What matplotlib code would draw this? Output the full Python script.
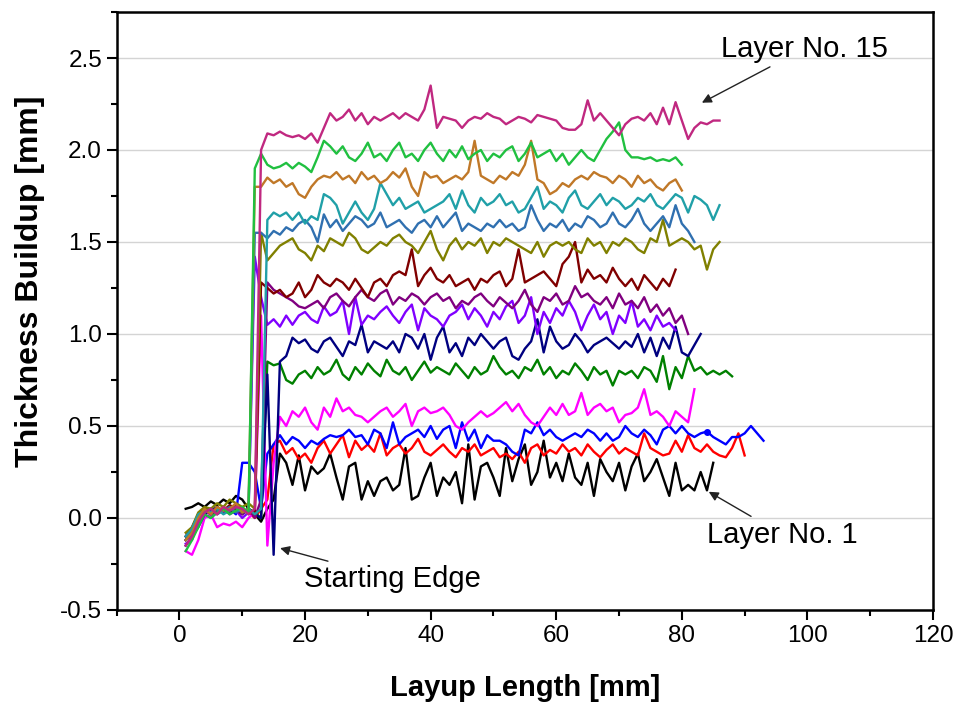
#!/usr/bin/env python3

import numpy as np
import matplotlib
matplotlib.use('Agg')
import matplotlib.pyplot as plt
from matplotlib.ticker import MultipleLocator

plt.rcParams['font.family'] = ['Liberation Sans', 'DejaVu Sans']

# thickness readings, one value per mm of layup length starting at x = 1 mm
layer1 = [0.05, 0.06, 0.08, 0.06, 0.09, 0.07, 0.10, 0.08, 0.12, 0.10,
          0.05, 0.02, -0.02, 0.05, 0.10, 0.35, 0.30, 0.18, 0.34, 0.15,
          0.28, 0.24, 0.27, 0.35, 0.22, 0.10, 0.28, 0.30, 0.10, 0.20,
          0.12, 0.20, 0.22, 0.15, 0.18, 0.38, 0.10, 0.12, 0.22, 0.30,
          0.12, 0.22, 0.18, 0.25, 0.08, 0.40, 0.10, 0.28, 0.30, 0.22,
          0.12, 0.38, 0.20, 0.32, 0.40, 0.18, 0.25, 0.42, 0.22, 0.30,
          0.20, 0.35, 0.22, 0.18, 0.30, 0.12, 0.32, 0.25, 0.20, 0.30,
          0.15, 0.28, 0.35, 0.20, 0.25, 0.32, 0.22, 0.12, 0.30, 0.15,
          0.18, 0.15, 0.25, 0.15, 0.30]
layer2 = [-0.12, -0.08, 0.00, 0.03, 0.05, 0.02, 0.06, 0.04, 0.07, 0.05,
          0.03, 0.00, 0.05, 0.10, 0.40, 0.42, 0.35, 0.38, 0.32, 0.35,
          0.30, 0.38, 0.42, 0.35, 0.40, 0.45, 0.33, 0.42, 0.37, 0.40,
          0.36, 0.46, 0.34, 0.38, 0.40, 0.35, 0.38, 0.43, 0.36, 0.34,
          0.37, 0.40, 0.36, 0.33, 0.38, 0.36, 0.40, 0.34, 0.36, 0.38,
          0.33, 0.35, 0.32, 0.36, 0.30, 0.38, 0.40, 0.34, 0.37, 0.35,
          0.40, 0.36, 0.38, 0.34, 0.40, 0.36, 0.33, 0.37, 0.40, 0.35,
          0.38, 0.36, 0.34, 0.46, 0.38, 0.36, 0.34, 0.35, 0.42, 0.36,
          0.45, 0.38, 0.36, 0.40, 0.36, 0.34, 0.33, 0.38, 0.46, 0.34]
layer3 = [-0.10, -0.05, 0.02, 0.05, 0.04, 0.06, 0.03, 0.05, 0.02, 0.30,
          0.30, 0.25, 0.05, 0.35, 0.40, 0.45, 0.40, 0.44, 0.42, 0.38,
          0.42, 0.40, 0.43, 0.45, 0.44, 0.45, 0.48, 0.44, 0.45, 0.40,
          0.48, 0.46, 0.38, 0.52, 0.40, 0.44, 0.46, 0.48, 0.44, 0.50,
          0.43, 0.48, 0.50, 0.38, 0.52, 0.42, 0.48, 0.38, 0.45, 0.42,
          0.42, 0.40, 0.36, 0.34, 0.48, 0.46, 0.52, 0.45, 0.48, 0.44,
          0.42, 0.44, 0.46, 0.44, 0.48, 0.46, 0.42, 0.46, 0.42, 0.44,
          0.50, 0.46, 0.44, 0.48, 0.45, 0.40, 0.48, 0.50, 0.46, 0.50,
          0.46, 0.44, 0.46, 0.47, 0.44, 0.42, 0.40, 0.44, 0.44, 0.46,
          0.50, 0.46, 0.42]
layer4 = [-0.18, -0.20, -0.12, 0.00, 0.02, -0.05, -0.03, -0.04, -0.02, -0.05,
          0.00, 0.03, 1.10, -0.15, 0.30, 0.55, 0.50, 0.58, 0.55, 0.60,
          0.52, 0.48, 0.60, 0.55, 0.65, 0.58, 0.60, 0.56, 0.55, 0.52,
          0.55, 0.58, 0.60, 0.55, 0.58, 0.62, 0.50, 0.58, 0.60, 0.57,
          0.58, 0.60, 0.56, 0.50, 0.48, 0.52, 0.55, 0.58, 0.55, 0.57,
          0.60, 0.63, 0.58, 0.62, 0.56, 0.52, 0.50, 0.55, 0.60, 0.56,
          0.62, 0.56, 0.58, 0.68, 0.56, 0.60, 0.62, 0.58, 0.60, 0.52,
          0.56, 0.57, 0.60, 0.70, 0.56, 0.58, 0.55, 0.50, 0.58, 0.55,
          0.52, 0.70]
layer5 = [-0.12, -0.08, 0.00, 0.05, 0.02, 0.04, 0.05, 0.03, 0.06, 0.02,
          0.05, 0.03, 0.00, 0.85, 0.83, 0.84, 0.75, 0.73, 0.78, 0.80,
          0.76, 0.82, 0.78, 0.80, 0.86, 0.78, 0.75, 0.82, 0.78, 0.84,
          0.80, 0.77, 0.86, 0.80, 0.78, 0.82, 0.75, 0.80, 0.85, 0.79,
          0.82, 0.80, 0.78, 0.84, 0.80, 0.76, 0.82, 0.78, 0.80, 0.88,
          0.82, 0.78, 0.80, 0.76, 0.82, 0.80, 0.86, 0.78, 0.82, 0.76,
          0.80, 0.78, 0.84, 0.80, 0.75, 0.82, 0.78, 0.80, 0.72, 0.80,
          0.78, 0.80, 0.76, 0.82, 0.80, 0.74, 0.88, 0.70, 0.82, 0.76,
          0.88, 0.80, 0.82, 0.78, 0.80, 0.78, 0.80, 0.77]
layer6 = [-0.15, -0.10, -0.05, 0.02, 0.05, 0.03, 0.05, 0.04, 0.06, 0.03,
          0.05, 0.02, 0.00, 0.78, -0.20, 0.85, 0.88, 0.98, 0.95, 0.97,
          0.92, 0.90, 0.96, 0.98, 0.93, 0.88, 0.96, 0.94, 1.05, 0.90,
          0.96, 0.94, 0.92, 0.96, 0.90, 1.00, 0.98, 0.92, 1.00, 0.86,
          0.98, 1.04, 0.90, 0.95, 0.88, 0.98, 0.94, 1.00, 0.96, 0.92,
          0.96, 0.98, 0.88, 0.86, 0.92, 0.96, 1.08, 0.90, 1.04, 0.96,
          0.92, 0.94, 1.00, 0.96, 0.90, 0.94, 0.96, 0.98, 0.95, 0.92,
          0.96, 0.93, 1.00, 0.90, 0.98, 0.88, 0.98, 0.92, 1.04, 0.90,
          0.88, 0.94, 1.00]
layer7 = [-0.14, -0.12, -0.02, 0.02, 0.00, 0.03, 0.05, 0.02, 0.04, 0.00,
          0.03, 1.42, 1.20, 1.05, 1.08, 1.04, 1.10, 1.05, 1.10, 1.12,
          1.08, 1.06, 1.15, 1.10, 1.12, 1.18, 1.00, 1.20, 1.05, 1.10,
          1.08, 1.12, 1.15, 1.10, 1.06, 1.12, 1.16, 1.02, 1.14, 1.10,
          1.08, 1.04, 1.10, 1.12, 1.16, 1.08, 1.14, 1.10, 1.04, 1.12,
          1.08, 1.15, 1.18, 1.06, 1.10, 1.20, 1.00, 1.12, 1.06, 1.14,
          1.10, 1.18, 1.12, 1.02, 1.10, 1.16, 1.08, 1.12, 1.00, 1.10,
          1.06, 1.18, 1.04, 1.08, 1.02, 1.10, 1.04, 1.06, 1.02]
layer8 = [-0.12, -0.08, 0.00, 0.04, 0.02, 0.05, 0.03, 0.06, 0.04, 0.02,
          0.05, 0.00, 0.10, 1.28, 1.24, 1.22, 1.20, 1.18, 1.15, 1.14,
          1.16, 1.18, 1.14, 1.20, 1.22, 1.18, 1.15, 1.20, 1.24, 1.20,
          1.18, 1.22, 1.24, 1.16, 1.20, 1.18, 1.22, 1.20, 1.16, 1.20,
          1.22, 1.18, 1.20, 1.14, 1.18, 1.16, 1.20, 1.22, 1.18, 1.15,
          1.20, 1.17, 1.14, 1.18, 1.24, 1.16, 1.12, 1.20, 1.18, 1.22,
          1.16, 1.18, 1.26, 1.20, 1.22, 1.18, 1.16, 1.20, 1.14, 1.22,
          1.16, 1.18, 1.14, 1.20, 1.12, 1.16, 1.10, 1.14, 1.06, 1.10,
          1.00]
layer9 = [-0.10, -0.06, 0.02, 0.05, 0.03, 0.06, 0.04, 0.07, 0.05, 0.03,
          0.05, 0.02, 1.28, 1.25, 1.22, 1.24, 1.20, 1.22, 1.28, 1.20,
          1.24, 1.32, 1.28, 1.26, 1.30, 1.28, 1.24, 1.30, 1.25, 1.20,
          1.28, 1.30, 1.26, 1.32, 1.34, 1.32, 1.46, 1.26, 1.32, 1.36,
          1.30, 1.28, 1.32, 1.26, 1.28, 1.30, 1.24, 1.30, 1.28, 1.32,
          1.34, 1.26, 1.30, 1.46, 1.28, 1.30, 1.32, 1.34, 1.30, 1.26,
          1.38, 1.42, 1.50, 1.28, 1.35, 1.30, 1.32, 1.28, 1.36, 1.30,
          1.26, 1.30, 1.24, 1.32, 1.28, 1.24, 1.30, 1.26, 1.35]
layer10 = [-0.08, -0.05, 0.03, 0.06, 0.05, 0.08, 0.06, 0.10, 0.08, 0.06,
           0.08, 0.05, 1.55, 1.40, 1.44, 1.48, 1.50, 1.52, 1.46, 1.44,
           1.40, 1.48, 1.45, 1.52, 1.50, 1.48, 1.55, 1.52, 1.46, 1.44,
           1.47, 1.50, 1.48, 1.52, 1.54, 1.50, 1.48, 1.44, 1.50, 1.56,
           1.46, 1.40, 1.48, 1.52, 1.46, 1.50, 1.48, 1.52, 1.44, 1.50,
           1.48, 1.52, 1.50, 1.48, 1.46, 1.44, 1.50, 1.42, 1.48, 1.50,
           1.48, 1.50, 1.46, 1.44, 1.52, 1.48, 1.50, 1.44, 1.50, 1.48,
           1.52, 1.50, 1.46, 1.44, 1.52, 1.50, 1.62, 1.48, 1.50, 1.52,
           1.50, 1.46, 1.48, 1.35, 1.46, 1.50]
layer11 = [-0.12, -0.08, 0.00, 0.03, 0.05, 0.02, 0.04, 0.06, 0.03, 0.05,
           0.02, 1.55, 1.55, 1.52, 1.56, 1.54, 1.58, 1.56, 1.60, 1.62,
           1.58, 1.50, 1.65, 1.58, 1.62, 1.56, 1.60, 1.64, 1.62, 1.58,
           1.60, 1.66, 1.58, 1.60, 1.62, 1.58, 1.55, 1.60, 1.62, 1.58,
           1.64, 1.58, 1.62, 1.66, 1.56, 1.60, 1.58, 1.56, 1.60, 1.58,
           1.62, 1.58, 1.60, 1.56, 1.58, 1.70, 1.62, 1.56, 1.60, 1.58,
           1.62, 1.56, 1.60, 1.58, 1.64, 1.62, 1.58, 1.60, 1.66, 1.60,
           1.58, 1.62, 1.68, 1.60, 1.56, 1.60, 1.64, 1.58, 1.70, 1.60,
           1.56, 1.50]
layer12 = [-0.10, -0.06, 0.02, 0.04, 0.03, 0.05, 0.02, 0.04, 0.06, 0.03,
           0.05, 0.02, 0.05, 1.62, 1.66, 1.64, 1.66, 1.62, 1.66, 1.60,
           1.64, 1.62, 1.76, 1.74, 1.70, 1.60, 1.66, 1.72, 1.66, 1.62,
           1.68, 1.82, 1.76, 1.70, 1.74, 1.68, 1.70, 1.72, 1.66, 1.68,
           1.70, 1.72, 1.76, 1.68, 1.78, 1.70, 1.66, 1.74, 1.70, 1.72,
           1.76, 1.70, 1.72, 1.66, 1.68, 1.74, 1.80, 1.68, 1.72, 1.70,
           1.66, 1.74, 1.78, 1.70, 1.68, 1.72, 1.76, 1.70, 1.74, 1.72,
           1.68, 1.70, 1.74, 1.72, 1.76, 1.70, 1.68, 1.72, 1.76, 1.74,
           1.66, 1.75, 1.73, 1.70, 1.62, 1.70]
layer13 = [-0.12, -0.08, 0.00, 0.05, 0.02, 0.06, 0.04, 0.05, 0.08, 0.03,
           0.05, 1.80, 1.80, 1.85, 1.82, 1.84, 1.80, 1.82, 1.76, 1.74,
           1.80, 1.84, 1.86, 1.85, 1.88, 1.84, 1.86, 1.82, 1.88, 1.84,
           1.86, 1.82, 1.84, 1.88, 1.85, 1.90, 1.80, 1.75, 1.88, 1.85,
           1.86, 1.82, 1.84, 1.86, 1.84, 1.88, 2.05, 1.86, 1.84, 1.82,
           1.86, 1.84, 1.88, 1.86, 1.92, 2.05, 1.84, 1.82, 1.76, 1.78,
           1.82, 1.80, 1.84, 1.86, 1.84, 1.88, 1.86, 1.85, 1.82, 1.86,
           1.84, 1.80, 1.86, 1.82, 1.84, 1.80, 1.78, 1.82, 1.84, 1.78]
layer14 = [-0.18, -0.12, -0.05, 0.02, 0.00, 0.03, 0.05, 0.02, 0.04, 0.06,
           0.03, 1.90, 1.98, 1.92, 1.90, 1.91, 1.93, 1.90, 1.93, 1.91,
           1.88, 1.96, 2.05, 2.02, 1.98, 2.02, 1.96, 1.94, 1.98, 2.04,
           1.96, 1.98, 1.94, 2.00, 2.04, 1.96, 1.98, 1.94, 2.00, 2.04,
           1.98, 1.94, 2.00, 1.96, 2.02, 1.95, 1.98, 2.00, 1.94, 1.98,
           1.96, 2.00, 2.02, 1.94, 1.98, 2.04, 1.96, 1.98, 2.00, 1.94,
           1.98, 1.92, 1.96, 2.00, 1.96, 1.94, 2.00, 2.06, 2.10, 2.15,
           2.00, 1.96, 1.96, 1.95, 1.96, 1.94, 1.95, 1.94, 1.96, 1.92]
layer15 = [-0.15, -0.10, -0.02, 0.03, 0.05, 0.02, 0.06, 0.04, 0.06, 0.05,
           0.02, 0.05, 2.00, 2.09, 2.08, 2.10, 2.08, 2.07, 2.08, 2.06,
           2.09, 2.04, 2.12, 2.20, 2.16, 2.18, 2.22, 2.16, 2.20, 2.14,
           2.18, 2.16, 2.18, 2.20, 2.17, 2.20, 2.18, 2.16, 2.22, 2.35,
           2.12, 2.18, 2.17, 2.16, 2.12, 2.16, 2.18, 2.17, 2.20, 2.18,
           2.17, 2.14, 2.16, 2.18, 2.17, 2.15, 2.19, 2.18, 2.17, 2.16,
           2.12, 2.11, 2.11, 2.14, 2.27, 2.16, 2.20, 2.16, 2.12, 2.08,
           2.14, 2.17, 2.18, 2.16, 2.20, 2.14, 2.23, 2.14, 2.26, 2.16,
           2.06, 2.12, 2.15, 2.14, 2.16, 2.16]

layers = [layer1, layer2, layer3, layer4, layer5, layer6, layer7, layer8,
          layer9, layer10, layer11, layer12, layer13, layer14, layer15]
colors = ['#000000', '#ff0000', '#0000ff', '#ff00ff', '#008000', '#000080',
          '#8000ff', '#800080', '#800000', '#808000', '#3070b0', '#20a0a8',
          '#c07828', '#20c040', '#c02880']

fig = plt.figure(figsize=(9.56, 7.06), dpi=100)
ax = fig.add_axes([0.122, 0.136, 0.854, 0.847])

for vals, c in zip(layers, colors):
    x = np.arange(1, len(vals) + 1)
    ax.plot(x, vals, color=c, lw=1.7, zorder=3)

# single marker on the blue trace
ax.plot(84, layer3[83], 'o', color='#0000ff', ms=4, zorder=4)

ax.set_xlim(-10, 120)
ax.set_ylim(-0.5, 2.75)
ax.xaxis.set_major_locator(MultipleLocator(20))
ax.xaxis.set_minor_locator(MultipleLocator(10))
ax.yaxis.set_major_locator(MultipleLocator(0.5))
ax.yaxis.set_minor_locator(MultipleLocator(0.25))
ax.yaxis.grid(True, color='#d4d4d4', lw=1.0, zorder=0)
ax.set_axisbelow(True)

ax.tick_params(which='both', direction='out', width=1.5, labelsize=17.5, top=False, right=False)
ax.tick_params(which='major', length=7)
ax.tick_params(which='minor', length=4)
for s in ax.spines.values():
    s.set_linewidth(1.8)

ax.set_yticklabels([f'{v:.1f}' for v in ax.get_yticks()])

ax.set_xlabel('Layup Length [mm]', fontsize=21, fontweight='bold', labelpad=20)
ax.set_ylabel('Thickness Buildup [mm]', fontsize=23, fontweight='bold')
ax.yaxis.set_label_coords(-0.088, 0.55)

arrow = dict(arrowstyle='-|>', color='#222222', lw=1.0, mutation_scale=14)
ax.annotate('Layer No. 15', xy=(82.8, 2.25), xytext=(99.5, 2.55),
            fontsize=21, ha='center', va='center', arrowprops=arrow)
ax.annotate('Layer No. 1', xy=(83.9, 0.15), xytext=(96, -0.09),
            fontsize=21, ha='center', va='center', arrowprops=arrow)
ax.annotate('Starting Edge', xy=(15.6, -0.16), xytext=(19.8, -0.33),
            fontsize=21, ha='left', va='center', arrowprops=arrow)

plt.savefig('out.png', dpi=100)
